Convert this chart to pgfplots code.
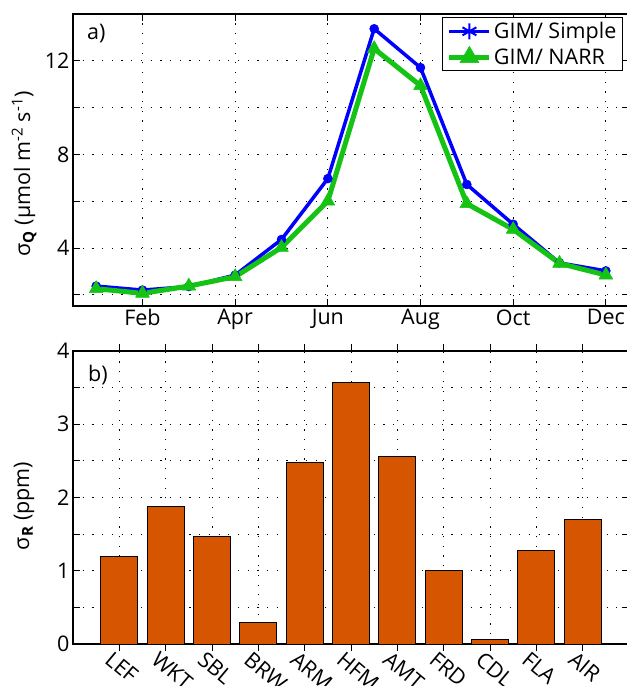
\documentclass[border=0pt]{standalone}
\usepackage{fontspec}
\setmainfont{Open Sans}
\usepackage{pgfplots}
\pgfplotsset{compat=1.18}
\definecolor{qblue}{RGB}{0,0,255}
\definecolor{qgreen}{RGB}{20,195,20}
\definecolor{borange}{RGB}{214,85,0}
\newcommand{\fs}{\fontsize{21.5}{25}\selectfont}
\begin{document}
\begin{tikzpicture}
\path[use as bounding box] (0pt,0pt) rectangle (627pt,686pt);
\pgfplotsset{
  common/.style={
    scale only axis, width=556pt, anchor=south west,
    axis line style={line width=1.3pt},
    tick style={black, line width=1pt},
    major tick length=7pt,
    tick align=inside,
    grid=major,
    major grid style={black, line width=1pt, dash pattern=on 1.2pt off 8.5pt},
    tick label style={font=\fs},
    label style={font=\fs},
    /pgf/number format/assume math mode=true,
    ylabel style={anchor=center},
  }
}
% ---------------- top panel
\begin{axis}[common, at={(73pt,380pt)}, height=292pt,
  xmin=0.5, xmax=12.5, ymin=1.53, ymax=14,
  xtick={2,4,...,12}, xticklabels={Feb,Apr,Jun,Aug,Oct,Dec},
  ytick={2,4,...,12}, yticklabels={,4,,8,,12},
  ylabel={σ\textsubscript{\textbf{Q}} (μmol m\textsuperscript{-2} s\textsuperscript{-1})},
  ylabel style={at={(axis description cs:-0.088,0.452)}},
  legend style={at={(rel axis cs:0.989,0.990)}, anchor=north east, draw=black, line width=1pt,
    font=\fs, inner xsep=4pt, inner ysep=3pt, row sep=4pt, cells={anchor=west}},
  legend image code/.code={\draw[#1, mark repeat=2, mark phase=2] plot coordinates {(0pt,0pt) (20pt,0pt) (40pt,0pt)};},
]
\addplot[qblue, line width=3.5pt, line join=round, mark=*, mark size=4.5pt, mark options={line width=0.5pt}, forget plot]
 coordinates {(1,2.38) (2,2.21) (3,2.36) (4,2.85) (5,4.37) (6,6.97) (7,13.37) (8,11.71) (9,6.72) (10,5.02) (11,3.37) (12,3.03)};
\addplot[qgreen, line width=5pt, line join=round, mark=triangle*, mark size=8pt, mark options={line width=0.5pt}, forget plot]
 coordinates {(1,2.27) (2,2.07) (3,2.38) (4,2.78) (5,4.03) (6,6.01) (7,12.52) (8,10.94) (9,5.90) (10,4.80) (11,3.35) (12,2.85)};
\addlegendimage{qblue, line width=3.5pt, mark=asterisk, mark size=8pt, mark options={line width=2pt}}
\addlegendentry{GIM/ Simple}
\addlegendimage{qgreen, line width=5pt, mark=triangle*, mark size=11pt, mark options={line width=0.5pt}}
\addlegendentry{GIM/ NARR}
\node[anchor=west, font=\fs, inner sep=0pt] at (rel axis cs:0.025,0.933) {a)};
\end{axis}
% ---------------- bottom panel
\begin{axis}[common, at={(73pt,42pt)}, height=293pt,
  xmin=0, xmax=12, ymin=0, ymax=4,
  ybar, bar width=0.8,
  xtick={1,...,11}, xticklabels={LEF,WKT,SBL,BRW,ARM,HFM,AMT,FRD,CDL,FLA,AIR},
  xticklabel style={rotate=-40, anchor=north west, inner sep=1pt, xshift=-6pt, yshift=-2pt},
  ytick={0,0.5,...,4}, yticklabels={0,,1,,2,,3,,4},
  ylabel={σ\textsubscript{\textbf{R}} (ppm)},
  ylabel style={at={(axis description cs:-0.088,0.471)}},
]
\addplot[fill=borange, draw=black, line width=0.8pt]
 coordinates {(1,1.19) (2,1.88) (3,1.47) (4,0.30) (5,2.48) (6,3.57) (7,2.56) (8,1.01) (9,0.06) (10,1.28) (11,1.70)};
\node[anchor=west, font=\fs, inner sep=0pt] at (rel axis cs:0.027,0.918) {b)};
\end{axis}
\end{tikzpicture}
\end{document}
